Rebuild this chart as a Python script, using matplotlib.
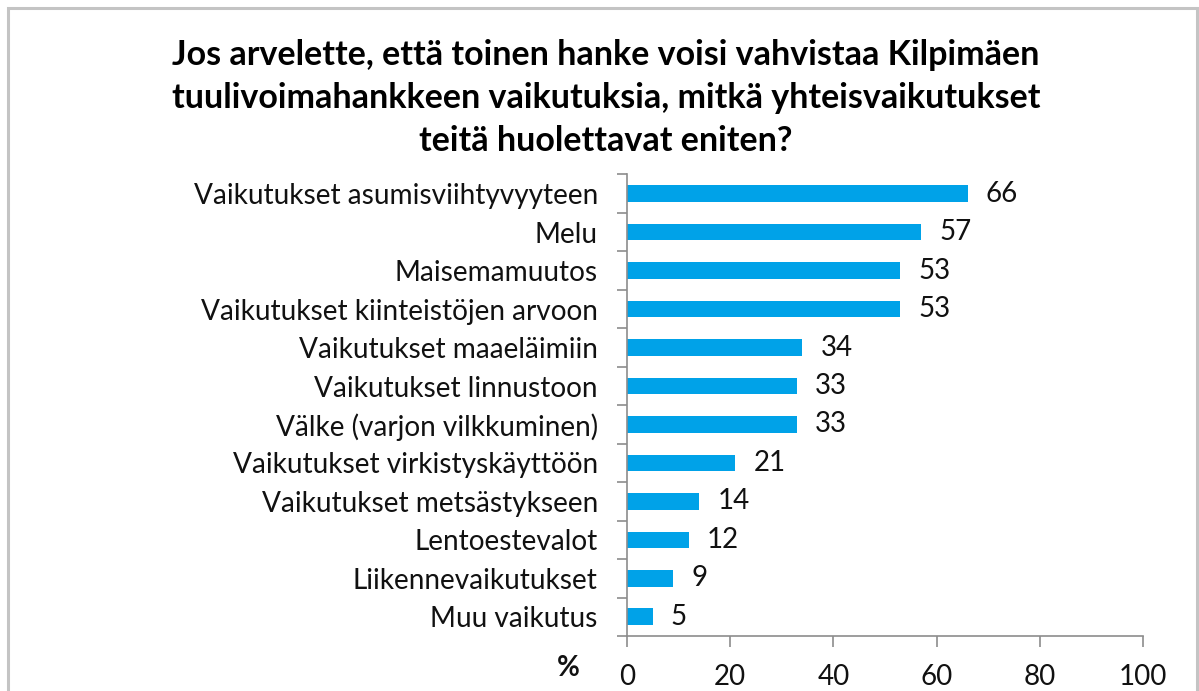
import matplotlib
matplotlib.use("Agg")
import matplotlib.pyplot as plt
from matplotlib.patches import Rectangle

categories = [
    "Vaikutukset asumisviihtyvyyteen",
    "Melu",
    "Maisemamuutos",
    "Vaikutukset kiinteistöjen arvoon",
    "Vaikutukset maaeläimiin",
    "Vaikutukset linnustoon",
    "Välke (varjon vilkkuminen)",
    "Vaikutukset virkistyskäyttöön",
    "Vaikutukset metsästykseen",
    "Lentoestevalot",
    "Liikennevaikutukset",
    "Muu vaikutus",
]
values = [66, 57, 53, 53, 34, 33, 33, 21, 14, 12, 9, 5]
x_ticks = [0, 20, 40, 60, 80, 100]
title = ("Jos arvelette, että toinen hanke voisi vahvistaa Kilpimäen\n"
         "tuulivoimahankkeen vaikutuksia, mitkä yhteisvaikutukset\n"
         "teitä huolettavat eniten?")

FONT = ["Lato", "DejaVu Sans"]
BAR = "#00A2E8"
AXIS = "#8c8c8c"

fig = plt.figure(figsize=(11.99, 6.91), dpi=100)
fig.patches.append(Rectangle((8 / 1199, -0.01), 1189 / 1199, 1 - 8 / 691 + 0.01,
                             transform=fig.transFigure, fill=False,
                             edgecolor="#c4c4c4", linewidth=2.2))

ax = fig.add_axes([0.5229, 0.0796, 0.4304, 0.6679])
n = len(categories)
ypos = list(range(n))
ax.barh(ypos, values, height=0.43, color=BAR, zorder=2)
ax.set_xlim(0, 100)
ax.set_ylim(n - 0.5, -0.5)

for y, v in zip(ypos, values):
    ax.annotate(str(v), (v, y), xytext=(13, 0), textcoords="offset points",
                ha="left", va="center", fontsize=20, family=FONT, color="#111111")

ax.set_yticks(ypos)
ax.set_yticklabels(categories, family=FONT, fontsize=20.2, color="#111111")
ax.tick_params(axis="y", which="major", length=0, pad=21)
ax.set_yticks([i - 0.5 for i in range(n + 1)], minor=True)
ax.tick_params(axis="y", which="minor", length=7, width=1.2, color=AXIS, direction="out")

ax.set_xticks(x_ticks)
ax.set_xticklabels([str(t) for t in x_ticks], family=FONT, fontsize=20, color="#111111")
ax.tick_params(axis="x", length=8, width=1.2, color=AXIS, direction="out", pad=12)

for side in ("top", "right"):
    ax.spines[side].set_visible(False)
for side in ("left", "bottom"):
    ax.spines[side].set_color(AXIS)
    ax.spines[side].set_linewidth(1.2)

fig.text(568 / 1199, 1 - 668 / 691, "%", ha="center", va="center",
         fontsize=20, fontweight="bold", family=FONT, color="#111111")

fig.text(606 / 1199, 1 - 98 / 691, title, ha="center", va="center",
         fontsize=24.5, fontweight="bold", family=FONT, color="#000000",
         linespacing=1.42)

fig.savefig("out.png", dpi=100)
